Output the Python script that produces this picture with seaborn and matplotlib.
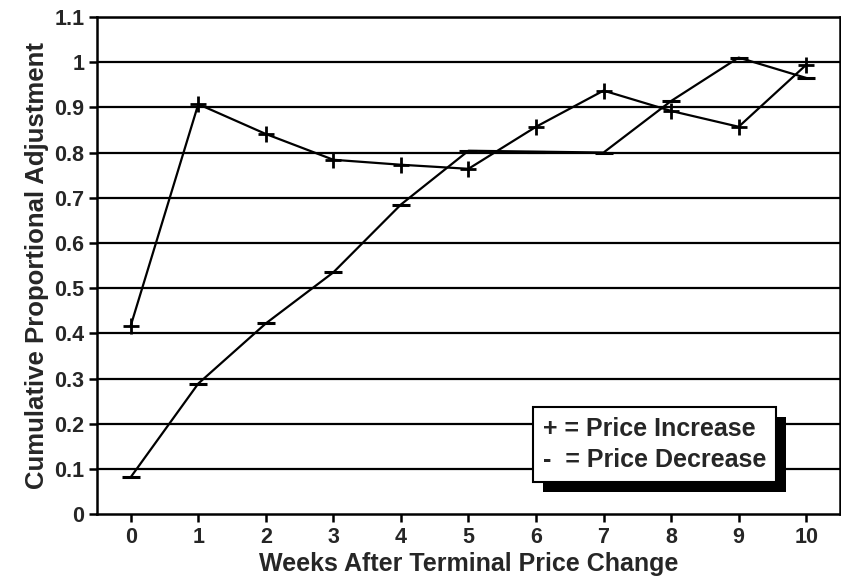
import pandas as pd
import matplotlib.pyplot as plt
import seaborn as sns
from matplotlib.lines import Line2D
from matplotlib import patheffects as pe

# Values
weeks = [0, 1, 2, 3, 4, 5, 6, 7, 8, 9, 10]
price_increase = [0.417, 0.907, 0.841, 0.784, 0.773, 0.764, 0.857, 0.937, 0.892, 0.857, 0.994]
price_decrease = [0.082, 0.289, 0.422, 0.535, 0.685, 0.804, 0.802, 0.800, 0.914, 1.010, 0.965]
y_ticks = [0, 0.1, 0.2, 0.3, 0.4, 0.5, 0.6, 0.7, 0.8, 0.9, 1.0, 1.1]
y_tick_labels = ["0", "0.1", "0.2", "0.3", "0.4", "0.5", "0.6", "0.7", "0.8", "0.9", "1", "1.1"]
legend_labels = ["+ = Price Increase", "-  = Price Decrease"]

df = pd.DataFrame({"week": weeks, "increase": price_increase, "decrease": price_decrease})

sns.set_style("white")
plt.rcParams["font.family"] = ["Liberation Sans", "DejaVu Sans"]
plt.rcParams["font.weight"] = "bold"

fig = plt.figure(figsize=(8.41, 5.83), dpi=100)
ax = fig.add_axes([0.1153, 0.118, 0.8835, 0.853])

for y in y_ticks[1:]:
    ax.axhline(y, color="black", lw=1.6, zorder=1)

sns.lineplot(data=df, x="week", y="increase", ax=ax, color="black", lw=1.6,
             marker="+", markersize=11, markeredgewidth=2, mec="black", zorder=3)
sns.lineplot(data=df, x="week", y="decrease", ax=ax, color="black", lw=1.6,
             marker="_", markersize=13, markeredgewidth=2.2, mec="black", zorder=3)

ax.set_xlim(-0.5, 10.5)
ax.set_ylim(0, 1.1)
ax.set_xticks(weeks)
ax.set_xticklabels([str(w) for w in weeks])
ax.set_yticks(y_ticks)
ax.set_yticklabels(y_tick_labels)
ax.tick_params(axis="both", direction="out", length=6, width=1.8, color="black",
               labelsize=15.5, pad=3, bottom=True, left=True)
for s in ax.spines.values():
    s.set_color("black")
    s.set_linewidth(1.8)

ax.set_xlabel("Weeks After Terminal Price Change", fontsize=18, fontweight="bold", labelpad=3)
ax.set_ylabel("Cumulative Proportional Adjustment", fontsize=18.5, fontweight="bold", labelpad=4)

handles = [Line2D([], [], linestyle="none") for _ in legend_labels]
leg = ax.legend(handles, legend_labels, loc="lower left", bbox_to_anchor=(0.587, 0.064),
                handlelength=0, handletextpad=0, frameon=True,
                prop={"size": 18, "weight": "bold"},
                fancybox=False, borderpad=0.4, labelspacing=0.3, borderaxespad=0)
frame = leg.get_frame()
frame.set_edgecolor("black")
frame.set_linewidth(1.5)
frame.set_alpha(1)
frame.set_path_effects([pe.SimplePatchShadow(offset=(7, -7), shadow_rgbFace="black", alpha=1),
                        pe.Normal()])
leg.set_zorder(5)

fig.savefig("out.png", dpi=100)
